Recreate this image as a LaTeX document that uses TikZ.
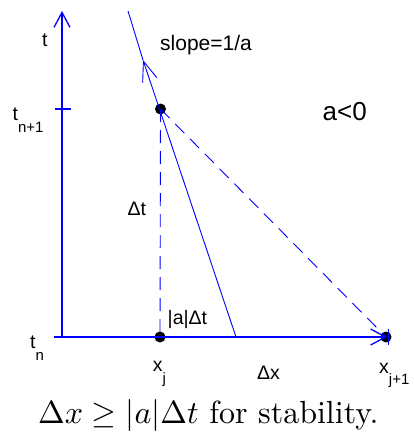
\documentclass[tikz,border=0pt]{standalone}
\usepackage{fontspec}
\newfontfamily\labfont{Liberation Sans}
\usetikzlibrary{arrows.meta}
\newcommand\subsz{\fontsize{15}{15}\selectfont}
\begin{document}
\begin{tikzpicture}[x=1pt,y=-1pt,
  axis/.style={blue, line width=1.3pt},
  charline/.style={blue, line width=0.9pt},
  dashline/.style={blue, line width=0.9pt, dash pattern=on 13pt off 8pt},
  dot/.style={circle, fill=black, inner sep=0pt, minimum size=11pt},
  lab/.style={inner sep=0pt, anchor=base west, font=\labfont\fontsize{19.5}{19.5}\selectfont},
  biglab/.style={inner sep=0pt, anchor=base west, font=\labfont\fontsize{26}{26}\selectfont},
  axtip/.style={-{Straight Barb[length=15pt,width=16pt]}},
  chartip/.style={-{Straight Barb[length=20pt,width=15pt]}}
]
\useasboundingbox (0,0) rectangle (413,436);
% coordinates
\coordinate (O) at (62,337);
\coordinate (ttop) at (62,11);
\coordinate (xstart) at (54,337);
\coordinate (xend) at (387,337);
\coordinate (tk1) at (54.5,109);
\coordinate (tk2) at (70.5,109);
\coordinate (xk1) at (388.5,329);
\coordinate (xk2) at (388.5,345);
\coordinate (ctop) at (128,11);
\coordinate (cmid) at (143,60);
\coordinate (cbot) at (236,337);
% dots
\node[dot] (P) at (160.5,109) {};
\node[dot] (Q) at (160,337) {};
\node[dot] (R) at (386,337) {};
% axes
\draw[axis, axtip] (O) -- (ttop);
\draw[axis, axtip] (xstart) -- (xend);
\draw[axis] (tk1) -- (tk2);
\draw[charline] (xk1) -- (xk2);
% characteristic
\draw[charline, chartip] (cbot) -- (cmid);
\draw[charline] (cmid) -- (ctop);
% dashed
\draw[dashline] (P.center) -- (Q.center);
\draw[dashline] (P.center) -- (R.center);
% labels
\node[lab] (tl) at (42,46.7) {t};
\node[lab] (tn1) at (12.5,120.7) {t\raisebox{-11.6pt}{\subsz n+1}};
\node[lab] (tn) at (30,348) {t\raisebox{-12pt}{\subsz n}};
\node[lab, font=\labfont\fontsize{21}{21}\selectfont] (slope) at (160,51) {slope=1/a};
\node[biglab] (aneg) at (322.5,120) {a<0};
\node[lab] (dt) at (127.5,215) {Δt};
\node[lab] (adt) at (167.5,324) {|a|Δt};
\node[lab] (xj) at (152.7,371.7) {x\raisebox{-11.3pt}{\subsz j}};
\node[lab] (dx) at (257,379) {Δx};
\node[lab] (xj1) at (379,373) {x\raisebox{-11.5pt}{\subsz j+1}};
\node[inner sep=0pt, anchor=base] (cap) at (208.3,423) {\scalebox{3.2}{$\Delta x \geq |a|\Delta t$ for stability.}};
\end{tikzpicture}
\end{document}
